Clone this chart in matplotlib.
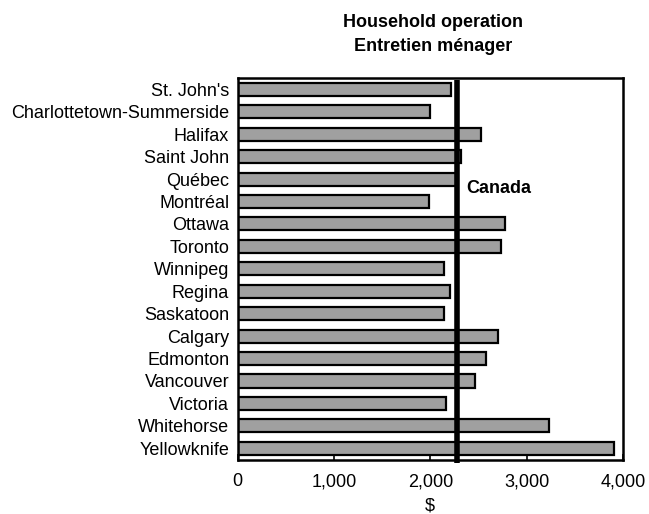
import matplotlib
matplotlib.use("Agg")
import matplotlib.pyplot as plt
import matplotlib.transforms as mtransforms
from matplotlib.ticker import FuncFormatter

cities = ["St. John's", "Charlottetown-Summerside", "Halifax", "Saint John", "Québec",
          "Montréal", "Ottawa", "Toronto", "Winnipeg", "Regina", "Saskatoon", "Calgary",
          "Edmonton", "Vancouver", "Victoria", "Whitehorse", "Yellowknife"]
values = [2220, 2000, 2530, 2320, 2270, 1990, 2780, 2730, 2140, 2200, 2140, 2700,
          2580, 2460, 2160, 3230, 3910]
canada_value = 2280
canada_label = "Canada"
title = "Household operation\nEntretien ménager"
xlabel = "$"
xticks = [0, 1000, 2000, 3000, 4000]

plt.rcParams['font.family'] = ['Liberation Sans', 'DejaVu Sans']

fig = plt.figure(figsize=(6.49, 5.14), dpi=100)
ax = fig.add_axes([0.366, 0.106, 0.594, 0.742])

pos = list(range(len(cities)))
ax.barh(pos, values, height=0.58, color="#a0a0a0", edgecolor="black", linewidth=1.6, zorder=2)
ax.set_ylim(len(cities) - 0.5, -0.5)
ax.set_xlim(0, 4000)
ax.set_yticks(pos)
ax.set_yticklabels(cities, fontsize=13)
ax.tick_params(axis='y', length=0, pad=6)
ax.set_xticks(xticks)
ax.xaxis.set_major_formatter(FuncFormatter(lambda v, p: f"{int(v):,}"))
ax.tick_params(axis='x', direction='in', length=4, width=1.2, labelsize=13, pad=10)
for s in ax.spines.values():
    s.set_linewidth(1.8)

trans = mtransforms.blended_transform_factory(ax.transData, ax.transAxes)
ax.plot([canada_value, canada_value], [-0.008, 0.995], transform=trans, color="black",
        linewidth=4, clip_on=False, zorder=3, solid_capstyle='butt')
ax.text(canada_value + 95, 4.4, canada_label, fontsize=13, fontweight='bold',
        va='center', ha='left')

ax.set_xlabel(xlabel, fontsize=13, labelpad=5)
fig.text(0.667, 0.933, title, ha='center', va='center', fontsize=13, fontweight='bold',
         linespacing=1.6)

fig.savefig("out.png", dpi=100)
